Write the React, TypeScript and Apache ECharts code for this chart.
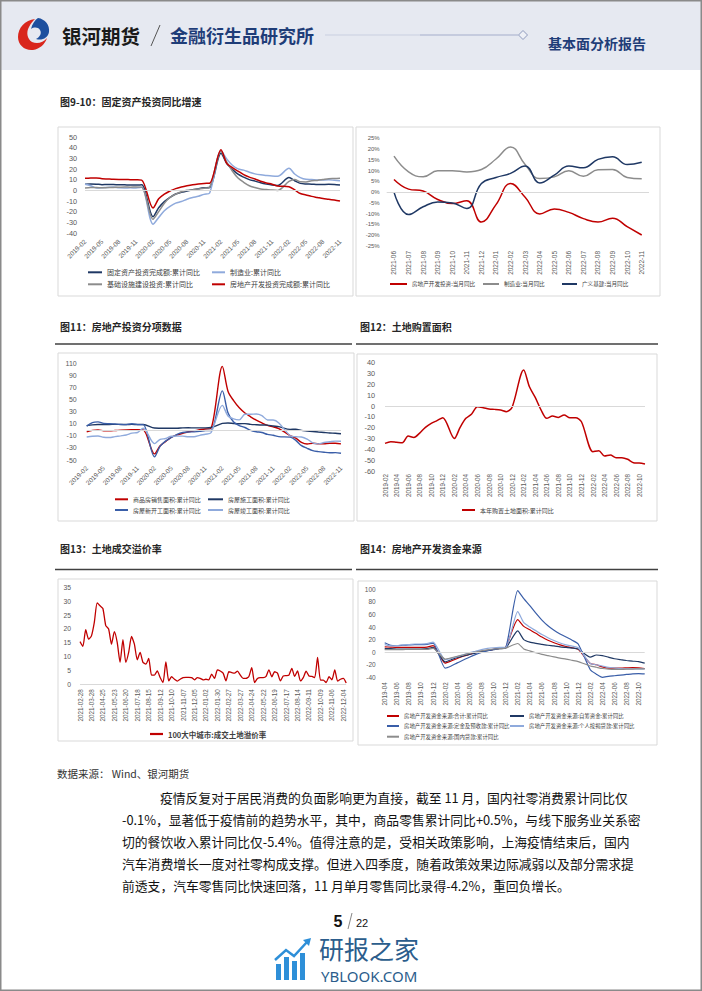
import React, { useEffect, useRef } from "react";
import * as echarts from "echarts";

// ---------- categories ----------
function monthRange(sy: number, sm: number, ey: number, em: number): string[] {
  const out: string[] = [];
  let y = sy, m = sm;
  while (y < ey || (y === ey && m <= em)) {
    out.push(`${y}-${String(m).padStart(2, "0")}`);
    m++;
    if (m > 12) { m = 1; y++; }
  }
  return out;
}
function weekRange(sy: number, sm: number, sd: number, n: number): string[] {
  const out: string[] = [];
  for (let i = 0; i < n; i++) {
    const d = new Date(Date.UTC(sy, sm - 1, sd + 7 * i));
    out.push(`${d.getUTCFullYear()}-${String(d.getUTCMonth() + 1).padStart(2, "0")}-${String(d.getUTCDate()).padStart(2, "0")}`);
  }
  return out;
}

const monthsA = monthRange(2019, 2, 2022, 11); // charts 9, 11, 12
const months10 = monthRange(2021, 6, 2022, 11); // chart 10
const months14 = monthRange(2019, 4, 2022, 11); // chart 14
const weeks13 = weekRange(2021, 2, 28, 94); // chart 13

// ---------- chart 9: 固定资产投资 累计同比 ----------
const fai = [6.1, 6.3, 6.1, 5.6, 5.8, 5.7, 5.5, 5.4, 5.2, 5.2, 5.4, null, -24.5, -16.1, -10.3, -6.3, -3.1, -1.6, -0.3, 0.8, 1.8, 2.6, 2.9, null, 35.0, 25.6, 19.9, 15.4, 12.6, 10.3, 8.9, 7.3, 6.1, 5.2, 4.9, null, 12.2, 9.3, 6.8, 6.2, 6.1, 5.7, 5.8, 5.9, 5.8, 5.3];
const mfg = [5.9, 4.6, 2.5, 2.7, 3.0, 3.3, 2.6, 2.5, 2.6, 2.5, 3.1, null, -31.5, -25.2, -18.8, -14.8, -11.7, -10.2, -8.1, -6.5, -5.3, -3.5, -2.2, null, 37.3, 29.8, 23.8, 20.4, 19.2, 17.3, 15.7, 14.8, 14.2, 13.7, 13.5, null, 20.9, 15.6, 12.2, 10.6, 10.4, 9.9, 10.0, 10.1, 9.7, 9.3];
const infra = [2.5, 2.9, 3.0, 2.6, 2.9, 3.0, 3.2, 3.4, 3.2, 3.5, 3.3, null, -26.9, -19.7, -11.8, -6.3, -3.3, -1.0, 0.3, 0.9, 1.6, 2.3, 3.4, null, 36.6, 26.9, 18.4, 11.8, 7.8, 4.6, 2.9, 1.5, 1.0, 0.5, 0.2, null, 8.6, 10.5, 8.3, 8.2, 9.3, 9.6, 10.4, 11.2, 11.4, 11.6];
const reInv = [11.6, 11.8, 11.9, 11.2, 10.9, 10.6, 10.5, 10.5, 10.3, 10.2, 9.9, null, -16.3, -7.7, -3.3, -0.3, 1.9, 3.4, 4.6, 5.6, 6.3, 6.8, 7.0, null, 38.3, 25.6, 21.6, 18.3, 15.0, 12.7, 10.9, 8.8, 7.2, 6.0, 4.4, null, 3.7, 0.7, -2.7, -4.0, -5.4, -6.4, -7.4, -8.0, -8.8, -9.8];

// ---------- chart 10: 当月同比 (%) ----------
const reMonthly = [5.9, 1.4, 0.5, -3.4, -5.3, -4.0, -13.9, -5.8, 4.0, -2.4, -10.1, -7.8, -9.4, -12.3, -13.9, -12.1, -16.0, -19.9];
const mfgMonthly = [16.7, 9.4, 7.1, 9.9, 9.9, 9.4, 10.5, 15.4, 21.0, 12.8, 6.3, 7.1, 9.9, 7.4, 10.4, 10.5, 6.8, 6.2];
const infraMonthly = [0, -10.4, -6.8, -4.6, -5.0, -7.6, 4.0, 6.8, 8.7, 12.1, 4.3, 7.9, 12.1, 11.3, 15.2, 16.4, 12.8, 13.9];

// ---------- chart 11: 房地产投资分项 ----------
const salesArea = [-3.6, -0.9, -0.3, -1.6, -1.8, -1.3, -0.6, -0.1, 0.1, 0.2, -0.1, null, -39.9, -26.3, -19.3, -12.3, -8.4, -5.8, -3.3, -1.8, 0.0, 1.3, 2.6, null, 104.9, 63.8, 48.1, 36.3, 27.7, 21.5, 15.9, 11.3, 7.3, 4.8, 1.9, null, -9.6, -13.8, -20.9, -23.6, -22.2, -23.1, -23.0, -22.2, -22.3, -23.3];
const constrArea = [6.8, 8.2, 8.8, 8.8, 8.8, 9.0, 8.8, 8.7, 9.0, 8.7, 8.7, null, 2.9, 2.6, 2.5, 2.6, 2.6, 3.1, 3.3, 3.1, 3.2, 3.2, 3.7, null, 10.5, 11.2, 10.5, 10.1, 10.2, 9.0, 8.4, 7.9, 7.7, 6.2, 5.2, null, 0.7, 1.0, -1.0, -1.9, -2.8, -3.7, -4.5, -5.3, -5.7, -6.5];
const newStartArea = [6.0, 11.9, 13.1, 10.5, 10.1, 9.5, 8.9, 8.6, 10.0, 8.6, 8.5, null, -44.9, -27.2, -18.4, -12.8, -7.6, -4.5, -3.6, -3.4, -2.6, -1.3, -1.2, null, 64.3, 28.2, 12.8, 6.9, 3.8, -0.9, -3.2, -4.5, -7.7, -9.1, -11.4, null, -12.2, -17.5, -26.3, -30.6, -34.4, -36.1, -37.2, -38.0, -37.8, -38.9];
const completeArea = [-11.9, -10.8, -10.3, -12.4, -12.7, -11.3, -10.0, -8.6, -5.5, -4.5, 2.6, null, -22.9, -15.8, -14.5, -10.6, -10.5, -10.5, -11.6, -11.6, -9.2, -7.3, -4.9, null, 40.4, 22.9, 17.9, 16.4, 25.7, 25.7, 26.0, 23.4, 16.3, 16.2, 11.2, null, -9.8, -11.5, -11.9, -15.3, -21.5, -23.3, -21.1, -19.9, -18.7, -19.0];
const yTicks11 = [-50, -30, -10, 10, 30, 50, 70, 90, 110];

// ---------- chart 12: 土地购置面积 ----------
const landArea = [-34.5, -33, -33.5, -34, -27.7, -29, -25, -19.7, -16, -13.5, -10.8, null, -30, -19.7, -11.4, -7.4, -0.6, -1.5, -2.8, -3.1, -3.7, -5.2, -1.1, null, 33.2, 17.8, 8, -3.5, -11.4, -9.2, -10.5, -8.3, -10.8, -10.8, -14.5, null, -42.2, -41.2, -46.2, -45.2, -47.7, -47.7, -49.2, -52.3, -52.6, -53.5];

// ---------- chart 13: 土地成交溢价率 (weekly) ----------
const premium = [15.4, 13.7, 19.7, 16.3, 17.5, 22.4, 29.4, 28.4, 27.4, 21.2, 20, 14.5, 19, 15.1, 7.9, 16.1, 7.9, 11.5, 17.3, 14.5, 8.8, 11.5, 7.9, 7.3, 9.3, 3.3, 3.3, 4.8, 2.4, 0.6, 8.1, 1.2, 2.7, 1.8, 1.1, 1.8, 2.4, 2.5, 2.5, 2.4, 1.6, 2.4, 2.1, 1.6, 1.8, 1.6, 3.6, 2.1, 5.2, 4.8, 4.0, 1.2, 4.5, 4.2, 4.0, 4.7, 3.3, 2.1, 2.1, 2.8, 6.0, 0.6, 2.1, 2.4, 2.4, 2.8, 5.2, 2.7, 4.5, 4.0, 1.2, 3.0, 3.1, 3.3, 5.7, 2.8, 4.8, 1.2, 2.4, 4.7, 3.0, 2.8, 2.4, 9.7, 1.5, 1.5, 0.6, 2.7, 1.6, 5.2, 1.1, 1.8, 2.1, 0.4];

// ---------- chart 14: 资金来源 ----------
const fundTotal = [8.5, 8, 7.5, 7.5, 7.5, 7.5, 7.5, 8, 10.5, null, -17.5, -14, -10, -6.5, -3.5, -1, 1.5, 3, 4.5, 6, 7.5, null, 51.8, 41, 35.5, 30, 24, 19, 15, 11.5, 9, 7, 4.5, null, -18, -20, -23.5, -25.5, -25.5, -25.5, -25, -24.5, -25, -26];
const fundSelf = [5.5, 5.5, 5, 5, 5, 5, 5, 5.5, 7.5, null, -15.5, -12, -8.5, -6, -3.5, -1.5, 1, 2.5, 4, 5.5, 6.5, null, 33.8, 20, 16, 14, 12.5, 11, 10, 8.5, 7.5, 6.5, 5, null, -8, -4.5, -5.5, -8, -10.5, -12, -13.3, -14.3, -15, -17.4];
const fundDeposit = [15, 11, 10.5, 11, 11.5, 12, 12, 12.5, 14.5, null, -25.5, -22, -17, -12.5, -8, -4, -0.5, 2.5, 4.5, 6, 7, null, 97.8, 85, 74, 62, 51, 42, 35, 29, 24, 19, 13, null, -28, -35, -40, -38.5, -37.5, -36.5, -35.5, -34.5, -34, -34.4];
const fundMortgage = [12, 10, 10.5, 11.5, 12, 13, 13, 13.5, 16, null, -12, -10, -7, -4, -1, 1.5, 4, 6, 7, 7.5, 7.5, null, 64.5, 47, 40, 34, 28, 23, 18.5, 14.5, 11.5, 9.5, 7, null, -18, -20, -22, -24, -25, -26, -26.5, -26.5, -26.5, -26.5];
const fundLoan = [4, 4, 4, 4, 4.5, 4.5, 4.5, 4.5, 6, null, -11, -9, -6.5, -4.5, -2, 0, 2, 3.5, 5, 5.5, 6.5, null, 13.8, 5, 2, -1, -3.5, -5.5, -7.5, -9.5, -11, -13, -15, null, -22, -24, -26, -27, -27.5, -27.5, -27, -27, -26.5, -26.5];

// ---------- texts ----------
const paragraph = [
  "疫情反复对于居民消费的负面影响更为直接，截至 11 月，国内社零消费累计同比仅",
  "-0.1%，显著低于疫情前的趋势水平，其中，商品零售累计同比+0.5%，与线下服务业关系密",
  "切的餐饮收入累计同比仅-5.4%。值得注意的是，受相关政策影响，上海疫情结束后，国内",
  "汽车消费增长一度对社零构成支撑。但进入四季度，随着政策效果边际减弱以及部分需求提",
  "前透支，汽车零售同比快速回落，11 月单月零售同比录得-4.2%，重回负增长。",
];

// ---------- logo shapes ----------
echarts.graphic.registerShape(
  "logoRed",
  echarts.graphic.extendPath("M19 2 C9 3 2 11 2 20 C2 28 9 34 17 33 C24 32 29 27 31 21 C27 26 21 27 16 25 C11 22 10 15 13 10 C15 6 17 4 19 2 Z", {})
);
echarts.graphic.registerShape(
  "logoBlue",
  echarts.graphic.extendPath("M22 1 C29 2 34 8 33 15 C32 21 26 24 20 22 C24 20 26 16 24 13 C22 10 18 10 15 12 C16 7 19 3 22 1 Z", {})
);

const NAVY = "#1f3864";
const LBLUE = "#8faadc";
const GRAY = "#8c8c8c";
const RED = "#c00000";
const MBLUE = "#3a5ea8";
const fontCN = "'Noto Sans CJK SC', 'Liberation Sans', sans-serif";
const fontNum = "'Liberation Sans', 'Noto Sans CJK SC', sans-serif";
const LBL = "#595959";

function ln(name: string, data: any[], color: string, idx: number, width = 1.5, smooth: number = 0.3, zero = false) {
  const s: any = {
    type: "line", name, data, xAxisIndex: idx, yAxisIndex: idx,
    showSymbol: false, symbol: "none", smooth, connectNulls: true, silent: true,
    lineStyle: { color, width }, itemStyle: { color },
    emphasis: { disabled: true },
  };
  if (zero) {
    s.markLine = {
      silent: true, symbol: ["none", "none"], label: { show: false },
      lineStyle: { color: "#d9d9d9", width: 1, type: "solid" },
      emphasis: { disabled: true },
      data: [{ yAxis: 0 }],
    };
  }
  return s;
}

function xax(idx: number, data: string[], opts: any) {
  return {
    type: "category", gridIndex: idx, data, boundaryGap: opts.gap ?? false,
    axisLine: { show: false }, axisTick: { show: false }, splitLine: { show: false },
    axisLabel: {
      interval: opts.interval, rotate: opts.rotate, fontSize: opts.fs, color: LBL,
      margin: opts.margin, fontFamily: fontNum, hideOverlap: false,
    },
  };
}
function yax(idx: number, min: number, max: number, interval: number, fs: number, margin: number, extra: any = {}) {
  return {
    type: "value", gridIndex: idx, min, max, interval,
    axisLine: { show: false }, axisTick: { show: false }, splitLine: { show: false },
    axisLabel: { fontSize: fs, color: LBL, margin, fontFamily: fontNum, ...extra },
  };
}
function lg(name: string, left: number, cy: number, w: number, fs: number, bold = false, h = 2) {
  const lh = fs + 2;
  return {
    data: [{ name, icon: "rect" }], left, top: cy - lh / 2, padding: 0,
    itemWidth: w, itemHeight: h, selectedMode: false,
    textStyle: { fontSize: fs, color: "#404040", fontFamily: fontCN, lineHeight: lh, fontWeight: bold ? "bold" : "normal" },
  };
}

function txt(text: string, x: number, y: number, fs: number, opts: any = {}) {
  return {
    type: "text", x, y, silent: true,
    style: {
      text, fontSize: fs, fontFamily: opts.font ?? fontCN, fontWeight: opts.weight ?? "normal",
      fill: opts.color ?? "#262626", textAlign: opts.align ?? "left", textVerticalAlign: "middle",
    },
  };
}
function box(x: number, y: number, w: number, h: number) {
  return { type: "rect", silent: true, shape: { x, y, width: w, height: h }, style: { fill: "none", stroke: "#d9d9d9", lineWidth: 1 } };
}
function hline(x1: number, x2: number, y: number, color = "#404040", w = 1.5) {
  return { type: "line", silent: true, shape: { x1, y1: y, x2, y2: y }, style: { stroke: color, lineWidth: w } };
}

export default function App() {
  const ref = useRef<HTMLDivElement>(null);
  useEffect(() => {
    if (!ref.current) return;
    const chart = echarts.init(ref.current, null, { renderer: "svg" });
    const option: any = {
      animation: false,
      backgroundColor: "#ffffff",
      grid: [
        { left: 85, top: 137.3, width: 255, height: 96 },
        { left: 386.7, top: 138.3, width: 262.3, height: 107.7 },
        { left: 86.7, top: 363.3, width: 254.3, height: 96.7 },
        { left: 385, top: 362.7, width: 260, height: 108.3 },
        { left: 80, top: 587.5, width: 266.2, height: 96.7 },
        { left: 384.7, top: 589.3, width: 260, height: 88 },
      ],
      xAxis: [
        xax(0, monthsA, { interval: 2, rotate: 45, fs: 6.5, margin: 7 }),
        xax(1, months10, { interval: 0, rotate: 90, fs: 6.5, margin: 5, gap: true }),
        xax(2, monthsA, { interval: 2, rotate: 45, fs: 6.5, margin: 7 }),
        xax(3, monthsA, { interval: 1, rotate: 90, fs: 6.3, margin: 3 }),
        xax(4, weeks13, { interval: 3, rotate: 90, fs: 6.3, margin: 5 }),
        xax(5, months14, { interval: 1, rotate: 90, fs: 6.3, margin: 5 }),
      ],
      yAxis: [
        yax(0, -40, 50, 10, 7.3, 8),
        yax(1, -25, 25, 5, 6, 7, { formatter: (v: number) => `${v}%` }),
        yax(2, -50, 110, 10, 7, 10, { customValues: yTicks11 }),
        yax(3, -60, 40, 10, 7.3, 10),
        yax(4, 0, 35, 5, 6.8, 9),
        yax(5, -40, 100, 20, 6.5, 9),
      ],
      legend: [
        lg("固定资产投资完成额:累计同比", 88, 272.3, 14, 7),
        lg("制造业:累计同比", 212, 272.3, 13, 7),
        lg("基础设施建设投资:累计同比", 88, 284.3, 14, 7),
        lg("房地产开发投资完成额:累计同比", 212, 284.3, 13, 7),
        lg("房地产开发投资:当月同比", 390, 284, 17, 5.6),
        lg("制造业:当月同比", 483, 284, 16, 5.6),
        lg("广义基建:当月同比", 562, 284, 15, 5.6),
        lg("商品房销售面积:累计同比", 115, 499.3, 13, 6),
        lg("房屋施工面积:累计同比", 208, 499.3, 15, 6),
        lg("房屋新开工面积:累计同比", 115, 510, 13, 6),
        lg("房屋竣工面积:累计同比", 208, 510, 15, 6),
        lg("本年购置土地面积:累计同比", 462, 510, 13, 6),
        lg("100大中城市:成交土地溢价率", 150, 734, 13, 7.5, true, 2.2),
        lg("房地产开发资金来源:合计:累计同比", 387, 716, 12, 5.4),
        lg("房地产开发资金来源:自筹资金:累计同比", 510, 716, 14, 5.4),
        lg("房地产开发资金来源:定金及预收款:累计同比", 387, 726, 12, 5.4),
        lg("房地产开发资金来源:个人按揭贷款:累计同比", 510, 726, 14, 5.4),
        lg("房地产开发资金来源:国内贷款:累计同比", 387, 736.7, 12, 5.4),
      ],
      series: [
        ln("固定资产投资完成额:累计同比", fai, NAVY, 0, 1.5, 0.3, true),
        ln("制造业:累计同比", mfg, LBLUE, 0, 1.5),
        ln("基础设施建设投资:累计同比", infra, GRAY, 0, 1.5),
        ln("房地产开发投资完成额:累计同比", reInv, RED, 0, 1.5),

        ln("房地产开发投资:当月同比", reMonthly, RED, 1, 1.5, 0.45, true),
        ln("制造业:当月同比", mfgMonthly, GRAY, 1, 1.5, 0.45),
        ln("广义基建:当月同比", infraMonthly, NAVY, 1, 1.5, 0.45),

        ln("商品房销售面积:累计同比", salesArea, RED, 2, 1.4, 0.3, true),
        ln("房屋施工面积:累计同比", constrArea, NAVY, 2, 1.4),
        ln("房屋新开工面积:累计同比", newStartArea, MBLUE, 2, 1.4),
        ln("房屋竣工面积:累计同比", completeArea, LBLUE, 2, 1.4),

        ln("本年购置土地面积:累计同比", landArea, RED, 3, 1.5, 0.3, true),

        ln("100大中城市:成交土地溢价率", premium, RED, 4, 1.3, 0.2, true),

        ln("房地产开发资金来源:合计:累计同比", fundTotal, RED, 5, 1.2, 0.2, true),
        ln("房地产开发资金来源:自筹资金:累计同比", fundSelf, NAVY, 5, 1.2, 0.2),
        ln("房地产开发资金来源:定金及预收款:累计同比", fundDeposit, MBLUE, 5, 1.2, 0.2),
        ln("房地产开发资金来源:个人按揭贷款:累计同比", fundMortgage, LBLUE, 5, 1.2, 0.2),
        ln("房地产开发资金来源:国内贷款:累计同比", fundLoan, GRAY, 5, 1.2, 0.2),
      ],
      graphic: {
        elements: [
          { type: "rect", silent: true, z: -10, shape: { x: 0, y: 0, width: 702, height: 70 }, style: { fill: "#e6e9f1" } },
          { type: "rect", silent: true, shape: { x: 0.75, y: 0.75, width: 700.5, height: 989.5 }, style: { fill: "none", stroke: "#8a8a8a", lineWidth: 1.5 } },
          { type: "logoRed", silent: true, x: 16, y: 17, scaleX: 1, scaleY: 1, style: { fill: "#d9261c" } },
          { type: "logoBlue", silent: true, x: 16, y: 17, scaleX: 1, scaleY: 1, style: { fill: "#1d4f9e" } },
          txt("银河期货", 62, 35, 19.5, { weight: "bold", color: "#1a1a1a" }),
          { type: "line", silent: true, shape: { x1: 160, y1: 25, x2: 151, y2: 46 }, style: { stroke: "#555", lineWidth: 1 } },
          txt("金融衍生品研究所", 170, 35, 18, { weight: "bold", color: "#1f3d78" }),
          { type: "line", silent: true, shape: { x1: 325, y1: 35, x2: 420, y2: 35 }, style: { lineWidth: 1, stroke: "#c9cfe0" } },
          { type: "line", silent: true, shape: { x1: 420, y1: 35, x2: 518, y2: 35 }, style: { lineWidth: 1.1, stroke: "#a3aecb" } },
          { type: "polygon", silent: true, shape: { points: [[523, 30.5], [527.5, 35], [523, 39.5], [518.5, 35]] }, style: { fill: "#eef0f6", stroke: "#8e9abd", lineWidth: 1 } },
          txt("基本面分析报告", 548, 43, 14, { weight: "bold", color: "#1f3d78" }),

          txt("图9-10：固定资产投资同比增速", 60, 101, 10, { weight: "bold" }),
          txt("图11：房地产投资分项数据", 60, 326, 10, { weight: "bold" }),
          txt("图12：土地购置面积", 360, 326, 10, { weight: "bold" }),
          txt("图13：土地成交溢价率", 60, 548, 10, { weight: "bold" }),
          txt("图14：房地产开发资金来源", 360, 548, 10, { weight: "bold" }),
          hline(55, 352, 344), hline(356, 658, 344),
          hline(55, 352, 569.5), hline(356, 658, 569.5),

          box(58, 127, 295, 169), box(356, 127, 304, 169),
          box(58, 353, 296, 168), box(357, 354, 300, 167),
          box(58, 579, 295, 162), box(358, 581, 299, 164),

          txt("数据来源： Wind、银河期货", 57, 773, 10.5, { color: "#333" }),
          txt(paragraph[0], 160, 797, 12.8, { color: "#111" }),
          txt(paragraph[1], 122, 819, 12.8, { color: "#111" }),
          txt(paragraph[2], 122, 841, 12.8, { color: "#111" }),
          txt(paragraph[3], 122, 863, 12.8, { color: "#111" }),
          txt(paragraph[4], 122, 885, 12.8, { color: "#111" }),

          txt("5", 338, 921, 16, { weight: "bold", align: "center", font: fontNum, color: "#111" }),
          { type: "line", silent: true, shape: { x1: 352, y1: 913, x2: 348, y2: 929 }, style: { stroke: "#666", lineWidth: 0.8 } },
          txt("22", 356, 923, 11, { font: fontNum, color: "#111" }),

          { type: "rect", silent: true, shape: { x: 276, y: 964, width: 5, height: 16 }, style: { fill: "#2e8fd8" } },
          { type: "rect", silent: true, shape: { x: 284, y: 957, width: 5, height: 23 }, style: { fill: "#2e8fd8" } },
          { type: "rect", silent: true, shape: { x: 292, y: 961, width: 5, height: 19 }, style: { fill: "#2e8fd8" } },
          { type: "rect", silent: true, shape: { x: 300, y: 953, width: 5, height: 27 }, style: { fill: "#2e8fd8" } },
          { type: "polyline", silent: true, shape: { points: [[275, 960], [286, 950], [294, 956], [307, 942]] }, style: { stroke: "#2e8fd8", lineWidth: 2.5, fill: "none" } },
          { type: "polygon", silent: true, shape: { points: [[303, 940], [311, 938], [309, 946]] }, style: { fill: "#2e8fd8" } },
          txt("研报之家", 319, 948, 25, { color: "#2b5d8c" }),
          txt("YBLOOK.COM", 321, 975.5, 15, { color: "#2b5d8c", font: "'Noto Sans', 'Liberation Sans', sans-serif" }),
        ],
      },
    };
    chart.setOption(option);
    return () => chart.dispose();
  }, []);
  return <div ref={ref} style={{ position: "fixed", left: 0, top: 0, width: 702, height: 991, background: "#fff" }} />;
}
